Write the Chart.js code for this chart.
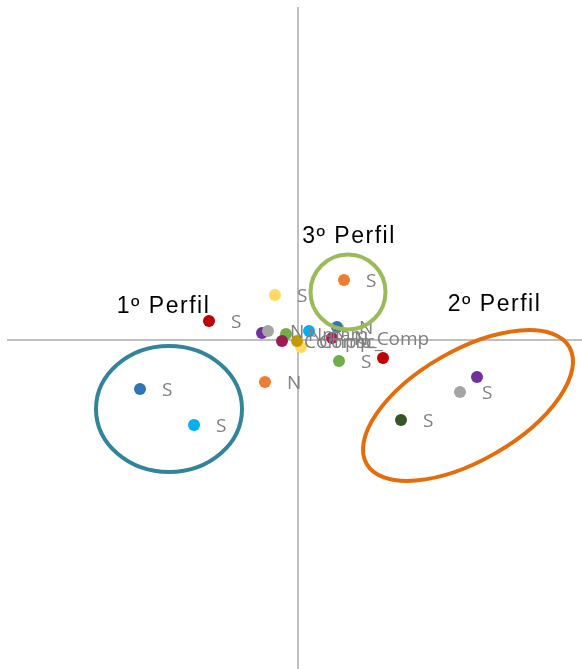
<!DOCTYPE html>
<html>
<head>
<meta charset="utf-8">
<script src="https://cdn.jsdelivr.net/npm/chart.js@4/dist/chart.umd.min.js"></script>
<style>
html,body{margin:0;padding:0;background:#fff;}
#wrap{width:582px;height:669px;position:relative;}
</style>
</head>
<body>
<div id="wrap"><canvas id="c"></canvas></div>
<script>
// Point coordinates (component 1, component 2)
const xValues = [-0.89, -0.23, 0.46, -1.58, -1.04, -0.33, 1.79, 1.62, 1.03, 0.85, 0.41,
                 -0.36, -0.30, -0.12, -0.16, 0.03, -0.01, 0.11, 0.39, 0.34];
const yValues = [0.19, 0.45, 0.60, -0.49, -0.85, -0.42, -0.37, -0.52, -0.80, -0.18, -0.21,
                 0.07, 0.09, 0.06, -0.01, -0.07, -0.01, 0.09, 0.13, 0.02];
const pointLabels = ["S", "S", "S", "S", "S", "N", "", "S", "S", "", "S",
                     "", "N", "Nmam", "Compsc_", "", "Comp", "N", "N", "N_Comp"];
const pointColors = ["#C00000", "#FFD966", "#ED7D31", "#2E75B6", "#00B0F0", "#ED7D31", "#7030A0", "#A5A5A5", "#375623", "#C00000", "#70AD47",
                     "#7030A0", "#A5A5A5", "#70AD47", "#9E1A55", "#FFD966", "#C49A00", "#00B0F0", "#2E75B6", "#A21C5A"];

// Group annotations (ellipses in data units)
const groupNames = ["1º Perfil", "2º Perfil", "3º Perfil"];
const groupCenterX = [-1.29, 1.70, 0.50];
const groupCenterY = [-0.69, -0.655, 0.48];
const groupRadiusX = [0.73, 1.17, 0.375];
const groupRadiusY = [0.63, 0.55, 0.375];
const groupAngle = [0, -30, 0];
const groupColors = ["#31849B", "#E46C0A", "#9BBB59"];
const groupTitleX = [-1.345, 1.965, 0.51];
const groupTitleY = [0.33, 0.35, 1.03];

const xMin = -2.98, xMax = 2.84, yMin = -3.29, yMax = 3.40;
const axisXStart = -2.91, axisYTop = 3.33;

const points = xValues.map((x, i) => ({x: x, y: yValues[i]}));

const overlay = {
  id: 'overlay',
  beforeDatasetsDraw(chart) {
    const ctx = chart.ctx, xs = chart.scales.x, ys = chart.scales.y;
    ctx.save();
    ctx.strokeStyle = '#BFBFBF';
    ctx.lineWidth = 2;
    const x0 = xs.getPixelForValue(0), y0 = ys.getPixelForValue(0);
    ctx.beginPath();
    ctx.moveTo(xs.getPixelForValue(axisXStart), y0);
    ctx.lineTo(xs.getPixelForValue(xMax), y0);
    ctx.moveTo(x0, ys.getPixelForValue(axisYTop));
    ctx.lineTo(x0, ys.getPixelForValue(yMin));
    ctx.stroke();
    ctx.restore();
  },
  afterDatasetsDraw(chart) {
    const ctx = chart.ctx, xs = chart.scales.x, ys = chart.scales.y;
    ctx.save();
    // point labels
    ctx.font = '19px "Open Sans", "Liberation Sans", sans-serif';
    ctx.fillStyle = '#7F7F7F';
    ctx.textAlign = 'left';
    ctx.textBaseline = 'middle';
    points.forEach((p, i) => {
      if (!pointLabels[i]) return;
      ctx.fillText(pointLabels[i], xs.getPixelForValue(p.x) + 22, ys.getPixelForValue(p.y) + 2);
    });
    // ellipses
    groupNames.forEach((g, i) => {
      const cx = xs.getPixelForValue(groupCenterX[i]);
      const cy = ys.getPixelForValue(groupCenterY[i]);
      const rx = Math.abs(xs.getPixelForValue(groupRadiusX[i]) - xs.getPixelForValue(0));
      const ry = Math.abs(ys.getPixelForValue(groupRadiusY[i]) - ys.getPixelForValue(0));
      ctx.beginPath();
      ctx.ellipse(cx, cy, rx, ry, groupAngle[i] * Math.PI / 180, 0, Math.PI * 2);
      ctx.strokeStyle = groupColors[i];
      ctx.lineWidth = 4;
      ctx.stroke();
    });
    ctx.font = '23px "Liberation Sans", Arial, sans-serif';
    ctx.letterSpacing = '1.5px';
    ctx.fillStyle = '#000000';
    ctx.textAlign = 'center';
    groupNames.forEach((g, i) => {
      ctx.fillText(g, xs.getPixelForValue(groupTitleX[i]), ys.getPixelForValue(groupTitleY[i]));
    });
    ctx.restore();
  }
};

new Chart(document.getElementById('c'), {
  type: 'scatter',
  data: {
    datasets: [{
      data: points,
      backgroundColor: pointColors,
      borderColor: pointColors,
      pointRadius: 6,
      pointHoverRadius: 6,
      borderWidth: 0
    }]
  },
  options: {
    responsive: true,
    maintainAspectRatio: false,
    animation: false,
    layout: {padding: 0, autoPadding: false},
    plugins: {legend: {display: false}, tooltip: {enabled: false}},
    scales: {
      x: {type: 'linear', min: xMin, max: xMax, display: false},
      y: {type: 'linear', min: yMin, max: yMax, display: false}
    }
  },
  plugins: [overlay]
});
</script>
</body>
</html>
